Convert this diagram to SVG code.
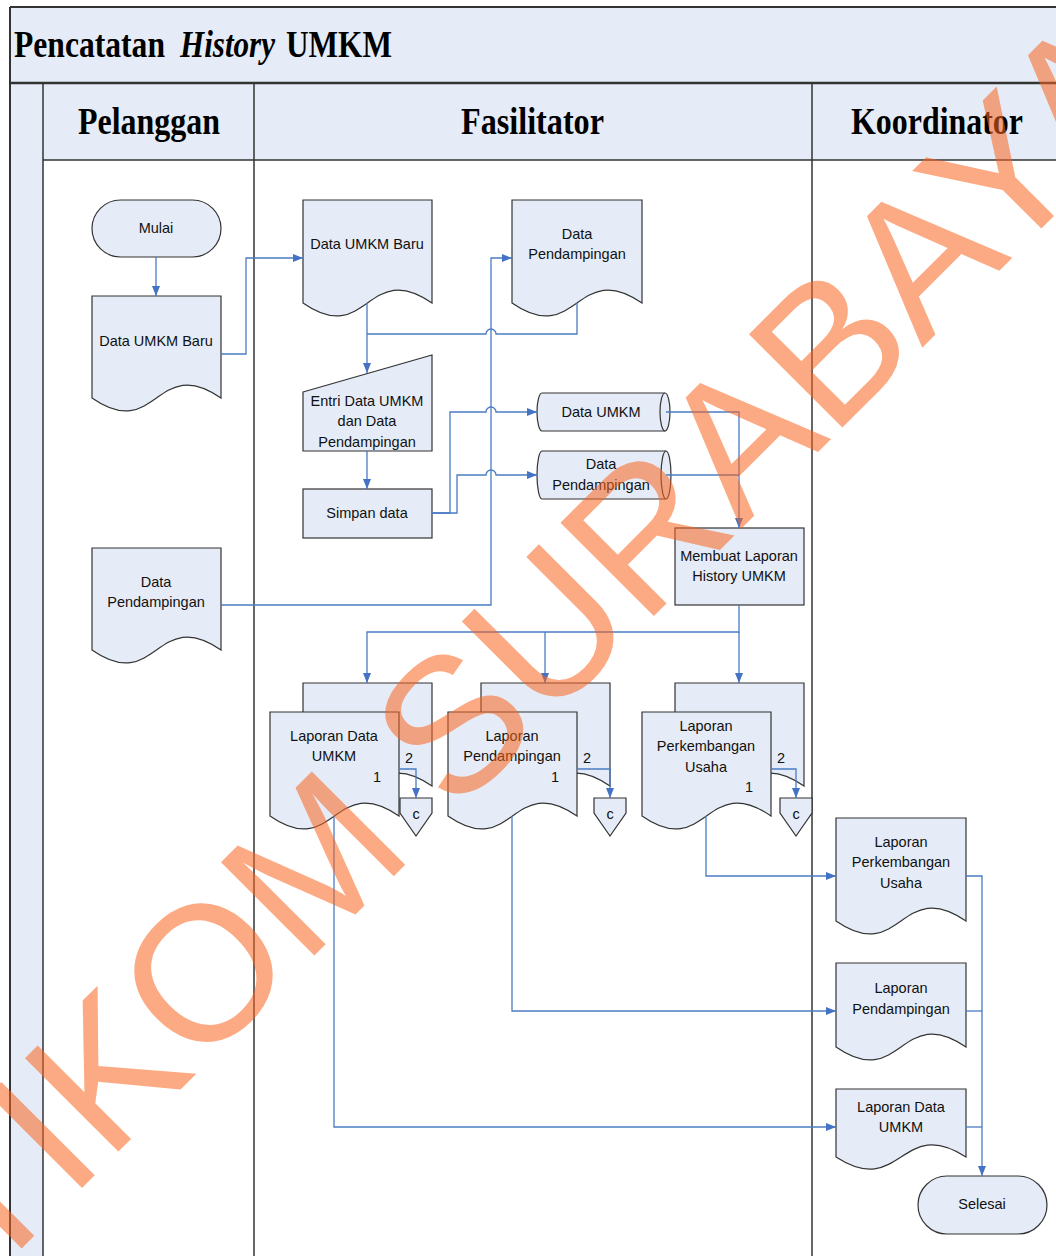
<svg xmlns="http://www.w3.org/2000/svg" width="1056" height="1256" viewBox="0 0 1056 1256">
<defs>
<marker id="ah" markerWidth="10" markerHeight="8" refX="10" refY="4" orient="auto" markerUnits="userSpaceOnUse">
<path d="M0,0 L10,4 L0,8 Z" fill="#4472C4"/>
</marker>
<style>
.bg{fill:#E5ECF7}
.frame{stroke:#333;fill:none}
.sh{fill:#E5ECF7;stroke:#333;stroke-width:1.2}
.cn{fill:none;stroke:#4A7CC4;stroke-width:1.3}
.ar{marker-end:url(#ah)}
.t{font-family:"Liberation Sans",Arial,sans-serif;font-size:14.5px;fill:#111;text-anchor:middle}
.h{font-family:"Liberation Serif","Times New Roman",serif;font-weight:bold;font-size:37px;fill:#000}
.wm{font-family:"Liberation Sans",Arial,sans-serif;font-size:192px;fill:#FA641E;fill-opacity:0.55}
</style>
</defs>

<g id="pool">
<rect class="bg" x="10" y="7" width="1060" height="76"/>
<rect class="bg" x="43" y="83" width="1020" height="77"/>
<rect class="bg" x="10" y="83" width="33" height="1180"/>
<line class="frame" x1="10" y1="7" x2="1056" y2="7" stroke-width="2"/>
<line class="frame" x1="10" y1="7" x2="10" y2="1256" stroke-width="2"/>
<line class="frame" x1="10" y1="83" x2="1056" y2="83" stroke-width="2.5" stroke="#555"/>
<line class="frame" x1="43" y1="160" x2="1056" y2="160" stroke-width="1.5" stroke="#555"/>
<line class="frame" x1="43" y1="83" x2="43" y2="1256" stroke-width="1.5"/>
<line class="frame" x1="254" y1="83" x2="254" y2="1256" stroke-width="1.5"/>
<line class="frame" x1="812" y1="83" x2="812" y2="1256" stroke-width="1.5"/>
<text class="h" x="14" y="57" textLength="151" lengthAdjust="spacingAndGlyphs">Pencatatan</text>
<text class="h" x="180" y="57" font-style="italic" textLength="95" lengthAdjust="spacingAndGlyphs">History</text>
<text class="h" x="286" y="57" textLength="106" lengthAdjust="spacingAndGlyphs">UMKM</text>
<text class="h" x="78" y="134" textLength="142" lengthAdjust="spacingAndGlyphs">Pelanggan</text>
<text class="h" x="461" y="134" textLength="143" lengthAdjust="spacingAndGlyphs">Fasilitator</text>
<text class="h" x="851" y="134" textLength="172" lengthAdjust="spacingAndGlyphs">Koordinator</text>
</g>

<g id="mulai">
<rect class="sh" x="92" y="200" width="129" height="57" rx="28.5"/>
<text class="t" x="156" y="233">Mulai</text>
</g>
<g id="doc-pel-umkm-baru">
<path class="sh" d="M92 296 H221 V398 C156.5 353 156.5 443 92 398 Z"/>
<text class="t" x="156" y="346">Data UMKM Baru</text>
</g>
<g id="doc-pel-pendampingan">
<path class="sh" d="M92 548 H221 V650 C156.5 605 156.5 695 92 650 Z"/>
<text class="t" x="156" y="587">Data</text>
<text class="t" x="156" y="607">Pendampingan</text>
</g>
<g id="doc-fas-umkm-baru">
<path class="sh" d="M303 200 H432 V303 C367.5 258 367.5 348 303 303 Z"/>
<text class="t" x="367" y="249">Data UMKM Baru</text>
</g>
<g id="doc-fas-pendampingan">
<path class="sh" d="M512 200 H642 V303 C577 258 577 348 512 303 Z"/>
<text class="t" x="577" y="239">Data</text>
<text class="t" x="577" y="259">Pendampingan</text>
</g>
<g id="entri">
<path class="sh" d="M303 392 L432 355 V451 H303 Z"/>
<text class="t" x="367" y="406">Entri Data UMKM</text>
<text class="t" x="367" y="426">dan Data</text>
<text class="t" x="367" y="447">Pendampingan</text>
</g>
<g id="simpan">
<rect class="sh" x="303" y="489" width="129" height="49"/>
<text class="t" x="367" y="518">Simpan data</text>
</g>
<g id="disk-umkm">
<path class="sh" d="M542 393 H665 A5 19 0 0 1 665 431 H542 A5 19 0 0 1 542 393 Z"/>
<path class="sh" fill="none" d="M665 393 A5 19 0 0 0 665 431"/>
<text class="t" x="601" y="417">Data UMKM</text>
</g>
<g id="disk-pendampingan">
<path class="sh" d="M542 451 H666 A5 24 0 0 1 666 499 H542 A5 24 0 0 1 542 451 Z"/>
<path class="sh" fill="none" d="M666 451 A5 24 0 0 0 666 499"/>
<text class="t" x="601" y="469">Data</text>
<text class="t" x="601" y="490">Pendampingan</text>
</g>
<g id="membuat">
<rect class="sh" x="675" y="528" width="129" height="77"/>
<text class="t" x="739" y="561">Membuat Laporan</text>
<text class="t" x="739" y="581">History UMKM</text>
</g>
<g id="lap-data-umkm">
<path class="sh" d="M303 683 H432 V786 C367.5 741 367.5 831 303 786 Z"/>
<path class="sh" d="M270 712 H399 V816 C334.5 771 334.5 861 270 816 Z"/>
<text class="t" x="334" y="741">Laporan Data</text>
<text class="t" x="334" y="761">UMKM</text>
<text class="t" x="377" y="782">1</text>
<text class="t" x="409" y="763">2</text>
</g>
<g id="lap-pendampingan">
<path class="sh" d="M481 683 H610 V786 C545.5 741 545.5 831 481 786 Z"/>
<path class="sh" d="M448 712 H577 V816 C512.5 771 512.5 861 448 816 Z"/>
<text class="t" x="512" y="741">Laporan</text>
<text class="t" x="512" y="761">Pendampingan</text>
<text class="t" x="555" y="782">1</text>
<text class="t" x="587" y="763">2</text>
</g>
<g id="lap-perkembangan">
<path class="sh" d="M675 683 H804 V786 C739.5 741 739.5 831 675 786 Z"/>
<path class="sh" d="M642 712 H771 V816 C706.5 771 706.5 861 642 816 Z"/>
<text class="t" x="706" y="731">Laporan</text>
<text class="t" x="706" y="751">Perkembangan</text>
<text class="t" x="706" y="772">Usaha</text>
<text class="t" x="749" y="792">1</text>
<text class="t" x="781" y="763">2</text>
</g>
<g id="off-c1">
<path class="sh" d="M400 798 H432 V813 L416 836 L400 813 Z"/>
<text class="t" x="416" y="819">c</text>
</g>
<g id="off-c2">
<path class="sh" d="M594 798 H626 V813 L610 836 L594 813 Z"/>
<text class="t" x="610" y="819">c</text>
</g>
<g id="off-c3">
<path class="sh" d="M780 798 H812 V813 L796 836 L780 813 Z"/>
<text class="t" x="796" y="819">c</text>
</g>
<g id="doc-koord-perkembangan">
<path class="sh" d="M836 818 H966 V921 C901 876 901 966 836 921 Z"/>
<text class="t" x="901" y="847">Laporan</text>
<text class="t" x="901" y="867">Perkembangan</text>
<text class="t" x="901" y="888">Usaha</text>
</g>
<g id="doc-koord-pendampingan">
<path class="sh" d="M836 963 H966 V1047 C901 1002 901 1092 836 1047 Z"/>
<text class="t" x="901" y="993">Laporan</text>
<text class="t" x="901" y="1014">Pendampingan</text>
</g>
<g id="doc-koord-data-umkm">
<path class="sh" d="M836 1089 H966 V1157 C901 1115 901 1199 836 1157 Z"/>
<text class="t" x="901" y="1112">Laporan Data</text>
<text class="t" x="901" y="1132">UMKM</text>
</g>
<g id="selesai">
<rect class="sh" x="918" y="1176" width="129" height="58" rx="29"/>
<text class="t" x="982" y="1209">Selesai</text>
</g>

<g id="connectors">
<path class="cn ar" d="M156 257 V296"/>
<path class="cn ar" d="M221 354 H246 V258 H303"/>
<path class="cn ar" d="M367 303 V373"/>
<path class="cn" d="M577 303 V334 H496 A5 5 0 0 0 486 334 H367"/>
<path class="cn ar" d="M221 605 H491 V258 H512"/>
<path class="cn ar" d="M367 451 V489"/>
<path class="cn ar" d="M432 513 H450 V412 H486 A5 5 0 0 1 496 412 H537"/>
<path class="cn ar" d="M432 513 H457 V475 H486 A5 5 0 0 1 496 475 H537"/>
<path class="cn ar" d="M666 412 H739 V528"/>
<path class="cn" d="M666 475 H739"/>
<path class="cn ar" d="M739 605 V632 H367 V683"/>
<path class="cn ar" d="M545 632 V683"/>
<path class="cn ar" d="M739 632 V683"/>
<path class="cn ar" d="M399 769 H416 V798"/>
<path class="cn ar" d="M577 769 H610 V798"/>
<path class="cn ar" d="M771 769 H796 V798"/>
<path class="cn ar" d="M334 816 V1127 H836"/>
<path class="cn ar" d="M512 816 V1011 H836"/>
<path class="cn ar" d="M706 816 V876 H836"/>
<path class="cn ar" d="M966 876 H982 V1176"/>
<path class="cn" d="M966 1011 H982"/>
<path class="cn" d="M966 1127 H982"/>
</g>

<g id="watermark">
<text class="wm" transform="translate(-104 1374) rotate(-45)" x="0" y="0">STIKOM SURABAYA</text>
</g>
</svg>
